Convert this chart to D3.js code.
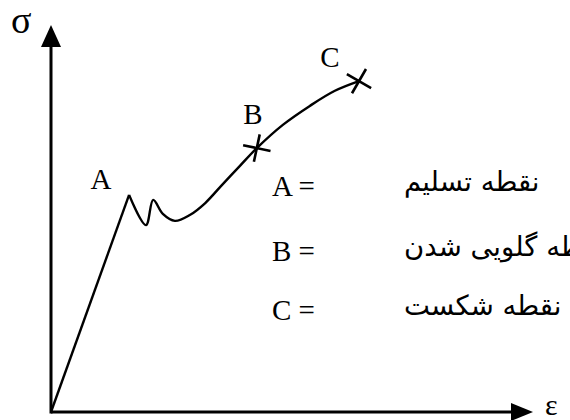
<!DOCTYPE html>
<html>
<head>
<meta charset="utf-8">
<script src="https://cdn.jsdelivr.net/npm/d3@7"></script>
<style>
  html, body { margin: 0; padding: 0; background: #fff; }
  svg { display: block; }
</style>
</head>
<body>
<svg id="chart" width="570" height="420"></svg>
<script>
// ---- data (arbitrary strain / stress units) ----
const strain = [0, 16.2, 19.7, 21.2, 23.2, 25.7, 28.8, 32.0, 35.5, 39.2, 42.7, 48.1, 53.7, 58.9, 63.9];
const stress = [0, 56.1, 48.3, 54.8, 51.2, 49.4, 50.9, 54.0, 58.7, 63.6, 68.2, 74.2, 79.1, 83.0, 85.5];
const pointNames = ["A", "B", "C"];
const pointIndex = [1, 10, 14];         // index into strain/stress
const crossPoints = ["B", "C"];
const legendKeys = ["A =", "B =", "C ="];
const legendText = ["نقطه تسلیم", "نقطه گلویی شدن", "نقطه شکست"];
const axisLabels = ["ε", "σ"];

const svg = d3.select("#chart");
const x = d3.scaleLinear().domain([0, 100]).range([51, 533]);
const y = d3.scaleLinear().domain([0, 100]).range([412, 25]);

const serif = "'Liberation Serif', 'Times New Roman', serif";

// axes
svg.append("line").attr("x1", x(0)).attr("y1", y(0)).attr("x2", x(100) - 18).attr("y2", y(0))
  .attr("stroke", "#000").attr("stroke-width", 3);
svg.append("line").attr("x1", x(0)).attr("y1", y(0) + 1.5).attr("x2", x(0)).attr("y2", y(100) + 18)
  .attr("stroke", "#000").attr("stroke-width", 3);
// arrowheads
svg.append("path")
  .attr("d", `M${x(100)},${y(0)} L${x(100) - 22},${y(0) - 9} L${x(100) - 22},${y(0) + 9} Z`)
  .attr("fill", "#000");
svg.append("path")
  .attr("d", `M${x(0)},${y(100)} L${x(0) - 10},${y(100) + 22} L${x(0) + 10},${y(100) + 22} Z`)
  .attr("fill", "#000");
// axis labels
svg.append("text").attr("x", x(100) + 12).attr("y", y(0) + 3).text(axisLabels[0])
  .attr("font-family", serif).attr("font-size", 30);
svg.append("text").attr("x", 11).attr("y", 33).text(axisLabels[1])
  .attr("font-family", serif).attr("font-size", 38);

const pts = strain.map((s, i) => [s, stress[i]]);

// elastic part
svg.append("path").datum(pts.slice(0, 2))
  .attr("d", d3.line().x(d => x(d[0])).y(d => y(d[1])))
  .attr("fill", "none").attr("stroke", "#000").attr("stroke-width", 2.4);
// plastic part
svg.append("path").datum(pts.slice(1))
  .attr("d", d3.line().x(d => x(d[0])).y(d => y(d[1])).curve(d3.curveCatmullRom.alpha(0.5)))
  .attr("fill", "none").attr("stroke", "#000").attr("stroke-width", 2.4)
  .attr("stroke-linejoin", "round");

// crosses
const crossRot = { B: 12, C: 30 };
crossPoints.forEach(name => {
  const i = pointIndex[pointNames.indexOf(name)];
  const cx = x(strain[i]), cy = y(stress[i]);
  svg.append("path")
    .attr("d", "M-14,0 L14,0 M0,-14 L0,14")
    .attr("transform", `translate(${cx},${cy}) rotate(${crossRot[name]})`)
    .attr("stroke", "#000").attr("stroke-width", 2.6).attr("fill", "none");
});

// point labels
const labelOff = { A: [-28, -6], B: [-4, -24], C: [-29, -14] };
pointNames.forEach((name, k) => {
  const i = pointIndex[k];
  svg.append("text")
    .attr("x", x(strain[i]) + labelOff[name][0])
    .attr("y", y(stress[i]) + labelOff[name][1])
    .attr("text-anchor", "middle")
    .attr("font-family", serif).attr("font-size", 29)
    .text(name);
});

// legend
const legendY = [196, 261, 320];
legendKeys.forEach((k, i) => {
  svg.append("text").attr("x", 272).attr("y", legendY[i])
    .attr("font-family", serif).attr("font-size", 29).text(k);
  svg.append("text").attr("x", 404).attr("y", legendY[i] - 5)
    .attr("font-family", "'DejaVu Sans', sans-serif").attr("font-size", 27.5)
    .attr("text-anchor", "start")
    .text(legendText[i]);
});
</script>
</body>
</html>
